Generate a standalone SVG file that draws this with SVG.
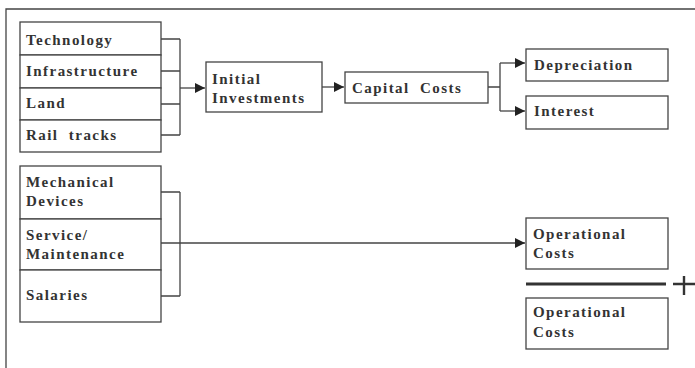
<svg xmlns="http://www.w3.org/2000/svg" width="695" height="368" viewBox="0 0 695 368">
<defs>
<marker id="ah" viewBox="0 0 10 10" refX="10" refY="5" markerWidth="10" markerHeight="10" markerUnits="userSpaceOnUse" orient="auto">
<path d="M0,0 L10,5 L0,10 Z" fill="#222"/>
</marker>
<style>
.box{fill:#fff;stroke:#444;stroke-width:1.3}
.ln{fill:none;stroke:#444;stroke-width:1.3}
.t{font-family:"Liberation Serif","Times New Roman",serif;font-weight:bold;font-size:15px;letter-spacing:1.45px;fill:#333;white-space:pre}
</style>
</defs>
<rect width="695" height="368" fill="#fff"/>
<path class="ln" d="M6,368 V9 H695"/>
<g id="technology"><rect class="box" x="20" y="22" width="141" height="33"/><text class="t" x="26" y="45">Technology</text></g>
<g id="infrastructure"><rect class="box" x="20" y="55" width="141" height="33"/><text class="t" x="26" y="76">Infrastructure</text></g>
<g id="land"><rect class="box" x="20" y="88" width="141" height="32"/><text class="t" x="26" y="108">Land</text></g>
<g id="rail-tracks"><rect class="box" x="20" y="120" width="141" height="32"/><text class="t" x="26" y="140">Rail  tracks</text></g>
<g id="initial-investments"><rect class="box" x="206" y="62" width="116" height="50"/><text class="t" x="212" y="84">Initial</text><text class="t" x="212" y="103">Investments</text></g>
<g id="capital-costs"><rect class="box" x="345" y="72" width="143" height="31"/><text class="t" x="352" y="93">Capital  Costs</text></g>
<g id="depreciation"><rect class="box" x="526" y="49" width="142" height="32"/><text class="t" x="534" y="70">Depreciation</text></g>
<g id="interest"><rect class="box" x="526" y="96" width="142" height="33"/><text class="t" x="534" y="116">Interest</text></g>
<g id="mechanical-devices"><rect class="box" x="20" y="166" width="141" height="53"/><text class="t" x="26" y="187">Mechanical</text><text class="t" x="26" y="206">Devices</text></g>
<g id="service-maintenance"><rect class="box" x="20" y="219" width="141" height="51"/><text class="t" x="26" y="240">Service/</text><text class="t" x="26" y="259">Maintenance</text></g>
<g id="salaries"><rect class="box" x="20" y="270" width="141" height="52"/><text class="t" x="26" y="300">Salaries</text></g>
<g id="operational-costs-1"><rect class="box" x="526" y="218" width="142" height="51"/><text class="t" x="533" y="239">Operational</text><text class="t" x="533" y="258">Costs</text></g>
<g id="operational-costs-2"><rect class="box" x="526" y="298" width="142" height="51"/><text class="t" x="533" y="317">Operational</text><text class="t" x="533" y="337">Costs</text></g>
<g id="sum-line"><path d="M526,284 H666" stroke="#333" stroke-width="3" fill="none"/><path d="M673,284 H695 M684,276 V295" stroke="#333" stroke-width="2.4" fill="none"/></g>
<g id="connectors">
<path class="ln" d="M161,39 H180 M161,71 H180 M161,104 H180 M161,135 H180 M180,39 V135"/>
<path class="ln" d="M180,88 H205" marker-end="url(#ah)"/>
<path class="ln" d="M322,87 H344" marker-end="url(#ah)"/>
<path class="ln" d="M488,87 H500 M500,63 V111"/>
<path class="ln" d="M500,63 H525" marker-end="url(#ah)"/>
<path class="ln" d="M500,111 H525" marker-end="url(#ah)"/>
<path class="ln" d="M161,192 H180 M161,296 H180 M180,192 V296"/>
<path class="ln" d="M161,243 H525" marker-end="url(#ah)"/>
</g>
</svg>
